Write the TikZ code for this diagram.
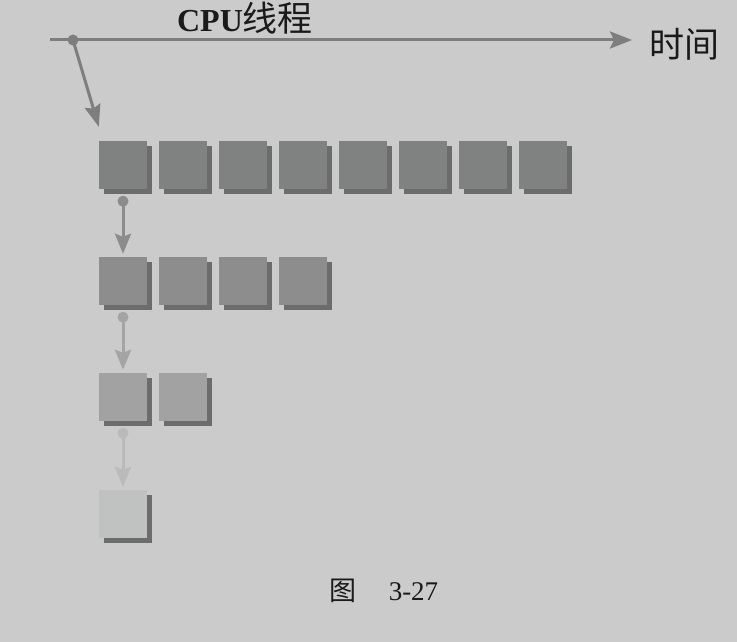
\documentclass[tikz,border=0pt]{standalone}
\usepackage{fontspec}
\setmainfont{Liberation Serif}
\newfontfamily\cjk{Noto Sans CJK SC}
\usetikzlibrary{arrows.meta,shadows,calc}
\definecolor{bgc}{HTML}{CBCBCB}
\definecolor{linec}{HTML}{7E7E7E}
\definecolor{sqA}{HTML}{7F8281}
\definecolor{sqB}{HTML}{8D8D8D}
\definecolor{sqC}{HTML}{A2A2A2}
\definecolor{sqD}{HTML}{C0C2C1}
\definecolor{shd}{HTML}{6C6C6C}
\definecolor{arA}{HTML}{8C8C8C}
\definecolor{arB}{HTML}{A4A4A4}
\definecolor{arC}{HTML}{BABABA}
\definecolor{txt}{HTML}{1A1A1A}
\begin{document}
\begin{tikzpicture}[x=1pt,y=-1pt,
  sq/.style={rectangle,draw=none,fill=#1,minimum size=48pt,inner sep=0pt,
    drop shadow={shadow xshift=5pt,shadow yshift=-5pt,fill=shd,opacity=1}},
  conn/.style={draw=#1,line width=3pt,-{Stealth[length=20pt,width=16pt,inset=3pt]}},
  dotc/.style={circle,fill=#1,inner sep=0pt,minimum size=11pt},
  lbl/.style={inner sep=0pt,text=txt}]
\fill[bgc] (0,0) rectangle (737,642);
\useasboundingbox (0,0) rectangle (737,642);
% time axis
\coordinate (axs) at (50,40);
\coordinate (axe) at (632,40);
\node[dotc=linec] (d0) at (73,40) {};
\draw[linec,line width=3pt,-{Stealth[length=22pt,width=17pt,inset=4pt]}] (axs) -- (axe);
\node[lbl,font=\bfseries\fontsize{32}{36}\selectfont,anchor=base] (cpu) at (245,32) {CPU{\cjk\mdseries\fontsize{35}{38}\selectfont 线程}};
\node[lbl,font=\cjk\fontsize{35}{38}\selectfont] (time) at (684,44) {时间};
% rows
\foreach \i in {1,...,8} {\node[sq=sqA] (r1c\i) at ({99+24+(\i-1)*60},165) {};}
\foreach \i in {1,...,4} {\node[sq=sqB] (r2c\i) at ({99+24+(\i-1)*60},281) {};}
\foreach \i in {1,...,2} {\node[sq=sqC] (r3c\i) at ({99+24+(\i-1)*60},397) {};}
\node[sq=sqD] (r4c1) at (123,514) {};
% connectors
\coordinate (t0) at ($(r1c1.north west)+(0,-14)$);
\draw[linec,line width=3pt,-{Stealth[length=22pt,width=16pt,inset=3pt]}] (d0.center) -- (t0);
\node[dotc=arA] (d1) at ($(r1c1.south)+(0,12)$) {};
\draw[conn=arA] (d1.center) -- ($(r2c1.north)+(0,-3)$);
\node[dotc=arB] (d2) at ($(r2c1.south)+(0,12)$) {};
\draw[conn=arB] (d2.center) -- ($(r3c1.north)+(0,-3)$);
\node[dotc=arC] (d3) at ($(r3c1.south)+(0,12)$) {};
\draw[conn=arC] (d3.center) -- ($(r4c1.north)+(0,-3)$);
% caption
\node[lbl,font=\fontsize{27}{30}\selectfont] (cap) at (384,591) {{\cjk 图}\hspace{32pt}3-27};
\end{tikzpicture}
\end{document}
